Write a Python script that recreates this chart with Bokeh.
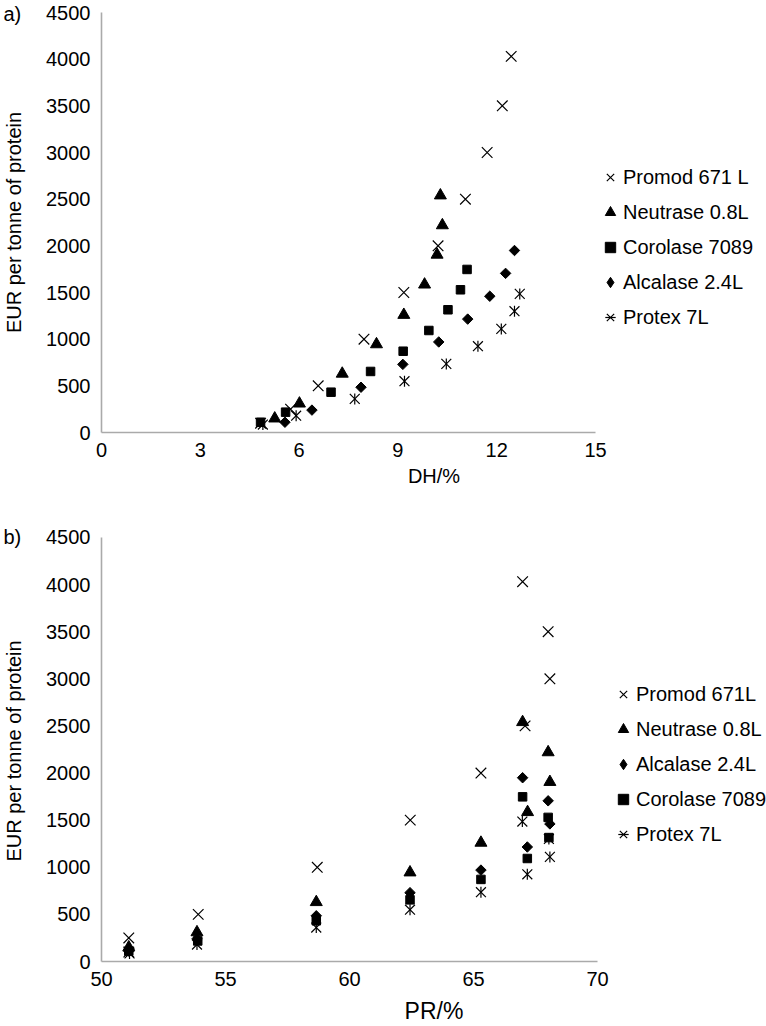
import math
from bokeh.plotting import figure
from bokeh.models import Range1d, FixedTicker, Legend, LegendItem, Label
from bokeh.layouts import column, row
from bokeh.embed import file_html
from bokeh.resources import INLINE

FONT = "Liberation Sans"

# ---------------- data ----------------
y_title = "EUR per tonne of protein"
y_ticks = [0, 500, 1000, 1500, 2000, 2500, 3000, 3500, 4000, 4500]
dh_ticks = [0, 3, 6, 9, 12, 15]
pr_ticks = [50, 55, 60, 65, 70]

promod_eur = [100, 250, 500, 1000, 1500, 2000, 2500, 3000, 3500, 4030]
promod_dh = [4.83, 5.74, 6.58, 7.97, 9.18, 10.22, 11.05, 11.71, 12.17, 12.44]
promod_pr = [51.1, 51.1, 53.9, 58.7, 62.45, 65.3, 67.08, 68.08, 68.01, 66.98]

neutrase_eur = [150, 310, 630, 945, 1260, 1585, 1905, 2220, 2540]
neutrase_dh = [5.26, 6.01, 7.31, 8.35, 9.18, 9.81, 10.19, 10.35, 10.29]
neutrase_pr = [51.1, 53.85, 58.66, 62.44, 65.3, 67.18, 68.08, 68.01, 66.98]

corolase_eur = [110, 218, 432, 654, 871, 1093, 1315, 1529, 1747]
corolase_dh = [4.83, 5.59, 6.97, 8.17, 9.16, 9.94, 10.52, 10.90, 11.10]
corolase_pr = [51.1, 53.88, 58.66, 62.44, 65.3, 67.17, 68.04, 68.01, 66.98]

alcalase_eur = [110, 240, 485, 730, 970, 1215, 1460, 1705, 1950]
alcalase_dh = [5.57, 6.39, 7.88, 9.15, 10.24, 11.12, 11.79, 12.27, 12.54]
alcalase_pr = [51.1, 53.85, 58.66, 62.44, 65.3, 67.17, 68.08, 68.01, 66.98]

protex_eur = [85, 180, 360, 550, 735, 925, 1110, 1300, 1485]
protex_dh = [4.90, 5.91, 7.69, 9.20, 10.47, 11.43, 12.14, 12.54, 12.70]
protex_pr = [51.13, 53.85, 58.66, 62.44, 65.3, 67.17, 68.08, 68.04, 66.97]

# ---------------- helpers ----------------
AXIS_COLOR = "#aaaaaa"
LEFT_W = 30          # strip holding panel tag and y title
MAIN_W = 736         # main figure width
BORDER_L = 71        # main figure left border (axis tick labels)
FRAME_W = MAIN_W - BORDER_L
Y_MAX = 4500


def style_axes(p, x_ticks, x_bounds, x_title, x_title_size, x_label_standoff, x_title_standoff):
    p.xaxis.ticker = FixedTicker(ticks=x_ticks)
    p.yaxis.ticker = FixedTicker(ticks=y_ticks)
    p.xaxis.bounds = x_bounds
    p.yaxis.bounds = (0, Y_MAX)
    for ax in (p.xaxis[0], p.yaxis[0]):
        ax.axis_line_color = AXIS_COLOR
        ax.axis_line_width = 1.6
        ax.major_tick_line_color = None
        ax.minor_tick_line_color = None
        ax.major_tick_in = 0
        ax.major_tick_out = 0
        ax.minor_tick_in = 0
        ax.minor_tick_out = 0
        ax.major_label_text_font = FONT
        ax.major_label_text_font_size = "20px"
        ax.major_label_text_color = "#000000"
        ax.axis_label_text_font = FONT
        ax.axis_label_text_font_style = "normal"
        ax.axis_label_text_color = "#000000"
    p.xaxis.major_label_standoff = x_label_standoff
    p.xaxis.axis_label = x_title
    p.xaxis.axis_label_text_font_size = x_title_size
    p.xaxis.axis_label_standoff = x_title_standoff
    p.yaxis.major_label_standoff = 11
    p.xgrid.grid_line_color = None
    p.ygrid.grid_line_color = None
    p.outline_line_color = None
    p.background_fill_color = "white"
    p.border_fill_color = "white"


def add_series(p, kind, xs, ys):
    """Returns the renderers that represent the series in the legend."""
    if kind == "x":
        return [p.scatter(xs, ys, marker="x", size=15, line_color="black", line_width=1.2)]
    if kind == "triangle":
        return [p.scatter(xs, ys, marker="triangle", size=12, fill_color="black", line_color="black")]
    if kind == "square":
        return [p.scatter(xs, ys, marker="square", size=8.5, fill_color="black", line_color="black")]
    if kind == "diamond":
        # plot: an even diamond (square turned 45 degrees)
        p.scatter(xs, ys, marker="square", size=7.4, angle=math.pi / 4,
                  fill_color="black", line_color="black")
        # legend stand-in: same data, hidden in the plot, still drawn by the legend
        lg = p.scatter(xs, ys, marker="diamond", size=12, fill_color="black",
                       line_color="black", visible=False)
        return [lg]
    # asterisk: diagonal cross plus a vertical bar
    r1 = p.scatter(xs, ys, marker="x", size=14, line_color="black", line_width=1.2)
    r2 = p.scatter(xs, ys, marker="dash", size=11, angle=math.pi / 2,
                   line_color="black", line_width=1.2)
    return [r1, r2]


def make_panel(series, x_bounds, x_ticks, axis_px, x_title, x_title_size,
               x_label_standoff, x_title_standoff, height, axis_top, frame_h,
               legend_xy, tag, tag_center, title_center):
    """axis_top: pixel row (from figure top) of the y-axis top (value Y_MAX)."""
    x0, x1 = x_bounds
    x_end = x0 + (x1 - x0) * FRAME_W / axis_px
    bottom = height - axis_top - frame_h
    # frame reaches the figure top; the y axis itself stops at Y_MAX
    y_end = Y_MAX * (frame_h + axis_top) / frame_h
    p = figure(width=MAIN_W, height=height, title=None,
               x_range=Range1d(x0, x_end), y_range=Range1d(0, y_end),
               output_backend="svg", toolbar_location=None,
               min_border_left=BORDER_L, min_border_right=0,
               min_border_top=0, min_border_bottom=bottom)
    style_axes(p, x_ticks, x_bounds, x_title, x_title_size, x_label_standoff, x_title_standoff)
    items = []
    for name, kind, xs, ys in series:
        items.append(LegendItem(label=name, renderers=add_series(p, kind, xs, ys)))
    legend = Legend(items=items, location=legend_xy, orientation="vertical",
                    padding=0, margin=0, spacing=9,
                    glyph_width=26, glyph_height=26, label_height=26,
                    label_standoff=0, click_policy="none",
                    inactive_fill_alpha=0,
                    label_text_font=FONT, label_text_font_size="20px",
                    label_text_color="#000000",
                    background_fill_alpha=0, border_line_alpha=0)
    p.add_layout(legend)

    # left strip: same vertical borders as the main figure; data units = pixels from bottom
    s = figure(width=LEFT_W, height=height, title=None,
               x_range=Range1d(0, LEFT_W), y_range=Range1d(bottom, height),
               output_backend="svg", toolbar_location=None,
               x_axis_location=None, y_axis_location=None,
               min_border_left=0, min_border_right=0, min_border_top=0,
               min_border_bottom=bottom)
    s.xgrid.grid_line_color = None
    s.ygrid.grid_line_color = None
    s.outline_line_color = None
    s.background_fill_color = "white"
    s.border_fill_color = "white"
    s.add_layout(Label(x=3, y=height - tag_center,
                       text=tag, text_font=FONT, text_font_size="20px", text_color="#000000",
                       text_align="left", text_baseline="middle"))
    s.add_layout(Label(x=13, y=height - title_center,
                       text=y_title, angle=math.pi / 2, text_font=FONT, text_font_size="20px",
                       text_color="#000000", text_align="center", text_baseline="middle"))
    return row(s, p, spacing=0)


series_a = [
    ("Promod 671 L", "x", promod_dh, promod_eur),
    ("Neutrase 0.8L", "triangle", neutrase_dh, neutrase_eur),
    ("Corolase 7089", "square", corolase_dh, corolase_eur),
    ("Alcalase 2.4L", "diamond", alcalase_dh, alcalase_eur),
    ("Protex 7L", "asterisk", protex_dh, protex_eur),
]

series_b = [
    ("Promod 671L", "x", promod_pr, promod_eur),
    ("Neutrase 0.8L", "triangle", neutrase_pr, neutrase_eur),
    ("Alcalase 2.4L", "diamond", alcalase_pr, alcalase_eur),
    ("Corolase 7089", "square", corolase_pr, corolase_eur),
    ("Protex 7L", "asterisk", protex_pr, protex_eur),
]

# panel a occupies y 0..492, panel b 492..1026
pa = make_panel(series_a, (0, 15), dh_ticks, 494, "DH/%", "20px", 10, 5,
                height=492, axis_top=12, frame_h=420,
                legend_xy=(496, 102), tag="a)", tag_center=13, title_center=222)
pb = make_panel(series_b, (50, 70), pr_ticks, 496, "PR/%", "23px", 10, 9,
                height=534, axis_top=45, frame_h=425,
                legend_xy=(509, 114), tag="b)", tag_center=45, title_center=259)

layout = column(pa, pb, spacing=0)
open("out.html", "w").write(file_html(layout, INLINE))
